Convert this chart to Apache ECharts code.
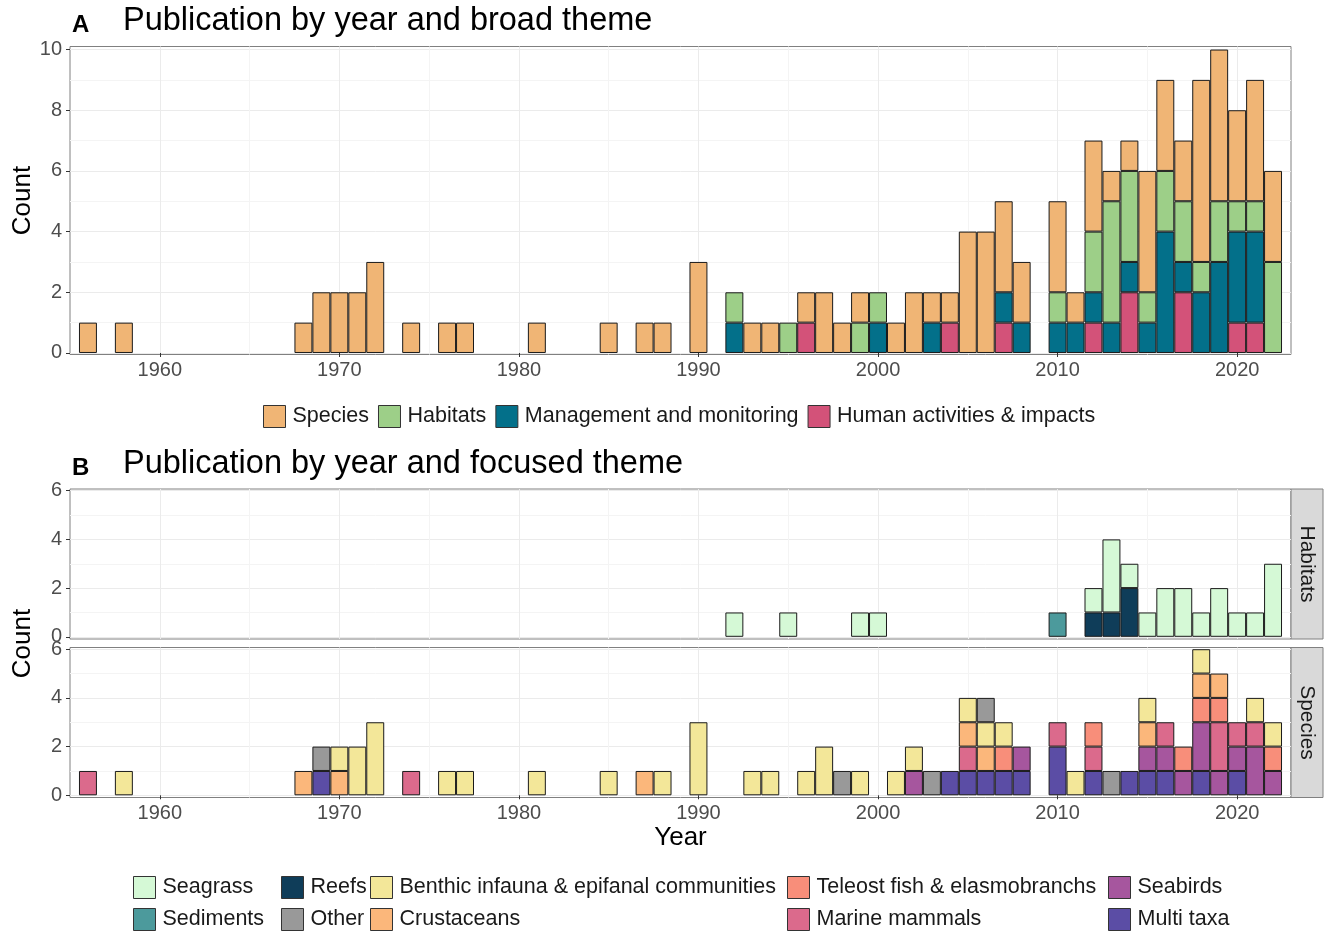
<!DOCTYPE html>
<html>
<head>
<meta charset="utf-8">
<script src="https://cdn.jsdelivr.net/npm/echarts@6/dist/echarts.min.js"></script>
<style>
html, body { margin: 0; padding: 0; background: #fff; }
#main { width: 1325px; height: 935px; }
</style>
</head>
<body>
<div id="main"></div>
<script>
// years shown on the x axis (one bar slot per year)
var years = [];
for (var yr = 1956; yr <= 2022; yr++) years.push(yr);
var xMajor = [1960, 1970, 1980, 1990, 2000, 2010, 2020];
var xMinor = [1965, 1975, 1985, 1995, 2005, 2015];

// A - broad theme, [year, count]
var species = [[1956,1],[1958,1],[1968,1],[1969,2],[1970,2],[1971,2],[1972,3],[1974,1],[1976,1],[1977,1],
  [1981,1],[1985,1],[1987,1],[1988,1],[1990,3],[1993,1],[1994,1],[1996,1],[1997,2],[1998,1],[1999,1],
  [2001,1],[2002,2],[2003,1],[2004,1],[2005,4],[2006,4],[2007,3],[2008,2],[2010,3],[2011,1],[2012,3],
  [2013,1],[2014,1],[2015,4],[2016,3],[2017,2],[2018,6],[2019,5],[2020,3],[2021,4],[2022,3]];
var habitats = [[1992,1],[1995,1],[1999,1],[2000,1],[2010,1],[2012,2],[2013,4],[2014,3],[2015,1],
  [2016,2],[2017,2],[2018,1],[2019,2],[2020,1],[2021,1],[2022,3]];
var management = [[1992,1],[2000,1],[2003,1],[2007,1],[2008,1],[2010,1],[2011,1],[2012,1],[2013,1],
  [2014,1],[2015,1],[2016,4],[2017,1],[2018,2],[2019,3],[2020,3],[2021,3]];
var human = [[1996,1],[2004,1],[2007,1],[2012,1],[2014,2],[2017,2],[2020,1],[2021,1]];

// B - focused theme, habitats facet
var seagrass = [[1992,1],[1995,1],[1999,1],[2000,1],[2012,1],[2013,3],[2014,1],[2015,1],[2016,2],
  [2017,2],[2018,1],[2019,2],[2020,1],[2021,1],[2022,3]];
var reefs = [[2012,1],[2013,1],[2014,2]];
var sediments = [[2010,1]];

// B - species facet
var multiTaxa = [[1969,1],[2004,1],[2005,1],[2006,1],[2007,1],[2008,1],[2010,2],[2012,1],[2014,1],
  [2015,1],[2016,1],[2018,1],[2020,1]];
var seabirds = [[2002,1],[2008,1],[2015,1],[2016,1],[2017,1],[2018,2],[2019,1],[2020,1],[2021,2],[2022,1]];
var mammals = [[1956,1],[1974,1],[2005,1],[2010,1],[2012,1],[2016,1],[2019,2],[2020,1],[2021,1]];
var teleost = [[2007,1],[2012,1],[2017,1],[2018,1],[2019,1],[2022,1]];
var crustaceans = [[1968,1],[1970,1],[1987,1],[2005,1],[2006,1],[2015,1],[2018,1],[2019,1]];
var benthic = [[1958,1],[1970,1],[1971,2],[1972,3],[1976,1],[1977,1],[1981,1],[1985,1],[1988,1],[1990,3],
  [1993,1],[1994,1],[1996,1],[1997,2],[1999,1],[2001,1],[2002,1],[2005,1],[2006,1],[2007,1],[2011,1],
  [2015,1],[2018,1],[2021,1],[2022,1]];
var other = [[1969,1],[1998,1],[2003,1],[2006,1],[2013,1]];

var FONT = "'Liberation Sans', Arial, Helvetica, sans-serif";

// count goes first so echarts stacks the count dimension, not the year
function fill(pairs) {
  var m = {};
  pairs.forEach(function (p) { m[p[0]] = p[1]; });
  return years.map(function (y) { return [m[y] ? m[y] : '-', y]; });
}

function bars(name, pairs, color, idx, stack) {
  return {
    name: name, type: 'bar', stack: stack,
    xAxisIndex: idx, yAxisIndex: idx,
    barWidth: '100%',
    encode: { x: 1, y: 0 },
    data: fill(pairs),
    itemStyle: { color: color, borderColor: '#1a1a1a', borderWidth: 1 },
    emphasis: { disabled: true }
  };
}

function plain(v) { return String(v); }

function xMain(g, labels) {
  return {
    type: 'value', gridIndex: g, min: 1955, max: 2023, position: 'bottom',
    axisLine: { show: false },
    axisTick: { show: labels, customValues: xMajor, length: 4, lineStyle: { color: '#333' } },
    axisLabel: { show: labels, customValues: xMajor, formatter: plain, fontSize: 20, color: '#4d4d4d', margin: 6, fontFamily: FONT },
    splitLine: { show: true, lineStyle: { color: '#ebebeb', width: 1 } }
  };
}
function xMin(g) {
  return {
    type: 'value', gridIndex: g, min: 1955, max: 2023, position: 'top',
    axisLine: { show: false },
    axisTick: { show: false, customValues: xMinor },
    axisLabel: { show: false },
    splitLine: { show: true, lineStyle: { color: '#f4f4f4', width: 1 } }
  };
}
function yMain(g, min, max, vals) {
  return {
    type: 'value', gridIndex: g, min: min, max: max, position: 'left',
    axisLine: { show: false },
    axisTick: { show: true, customValues: vals, length: 4, lineStyle: { color: '#333' } },
    axisLabel: { customValues: vals, formatter: plain, fontSize: 20, color: '#4d4d4d', margin: 8, fontFamily: FONT },
    splitLine: { show: true, lineStyle: { color: '#ebebeb', width: 1 } }
  };
}
function yMin(g, min, max, vals) {
  return {
    type: 'value', gridIndex: g, min: min, max: max, position: 'right',
    axisLine: { show: false },
    axisTick: { show: false, customValues: vals },
    axisLabel: { show: false },
    splitLine: { show: true, lineStyle: { color: '#f4f4f4', width: 1 } }
  };
}

function legendCol(left, top, names, orient) {
  return {
    left: left, top: top, orient: orient || 'vertical',
    padding: 0,
    itemWidth: 22, itemHeight: 22, itemGap: 9, icon: 'rect',
    selectedMode: false,
    itemStyle: { borderColor: '#333', borderWidth: 1 },
    textStyle: { fontSize: 21.5, color: '#1a1a1a', fontFamily: FONT, padding: [0, 0, 0, 2] },
    data: names
  };
}

function txt(text, x, y, size, opts) {
  opts = opts || {};
  return {
    type: 'text', x: x, y: y, rotation: opts.rot || 0,
    style: {
      text: text, fill: opts.fill || '#000',
      font: (opts.bold ? 'bold ' : '') + size + 'px ' + FONT,
      align: opts.align || 'left', textAlign: opts.align || 'left',
      verticalAlign: 'middle', textVerticalAlign: 'middle'
    }
  };
}

var gridStyle = { show: true, borderColor: '#808080', borderWidth: 1, backgroundColor: '#fff' };

var chart = echarts.init(document.getElementById('main'));
chart.setOption({
  animation: false,
  backgroundColor: '#fff',
  textStyle: { fontFamily: FONT },
  grid: [
    Object.assign({ left: 70, top: 46.5, width: 1221, height: 308 }, gridStyle),
    Object.assign({ left: 70, top: 489, width: 1221, height: 150 }, gridStyle),
    Object.assign({ left: 70, top: 647.5, width: 1221, height: 150 }, gridStyle)
  ],
  xAxis: [xMain(0, true), xMin(0), xMain(1, false), xMin(1), xMain(2, true), xMin(2)],
  yAxis: [
    yMain(0, -0.05, 10.1, [0, 2, 4, 6, 8, 10]), yMin(0, -0.05, 10.1, [1, 3, 5, 7, 9]),
    yMain(1, -0.09, 6.07, [0, 2, 4, 6]), yMin(1, -0.09, 6.07, [1, 3, 5]),
    yMain(2, -0.09, 6.07, [0, 2, 4, 6]), yMin(2, -0.09, 6.07, [1, 3, 5])
  ],
  legend: [
    legendCol(263, 405, ['Species', 'Habitats', 'Management and monitoring', 'Human activities & impacts'], 'horizontal'),
    legendCol(133, 876, ['Seagrass', 'Sediments']),
    legendCol(281, 876, ['Reefs', 'Other']),
    legendCol(370, 876, ['Benthic infauna & epifanal communities', 'Crustaceans']),
    legendCol(787, 876, ['Teleost fish & elasmobranchs', 'Marine mammals']),
    legendCol(1108, 876, ['Seabirds', 'Multi taxa'])
  ],
  graphic: [
    txt('A', 72, 25.5, 24, { bold: true }),
    txt('Publication by year and broad theme', 123, 21.5, 32.5),
    txt('B', 72, 468, 24, { bold: true }),
    txt('Publication by year and focused theme', 123, 464, 32.5),
    txt('Count', 22.5, 200.5, 26, { align: 'center', rot: Math.PI / 2 }),
    txt('Count', 22.5, 643.5, 26, { align: 'center', rot: Math.PI / 2 }),
    txt('Year', 680.5, 838, 26, { align: 'center' }),
    { type: 'rect', shape: { x: 1291, y: 489, width: 32, height: 150 },
      style: { fill: '#d9d9d9', stroke: '#808080', lineWidth: 1 } },
    { type: 'rect', shape: { x: 1291, y: 647.5, width: 32, height: 150 },
      style: { fill: '#d9d9d9', stroke: '#808080', lineWidth: 1 } },
    txt('Habitats', 1307, 564, 21, { align: 'center', rot: -Math.PI / 2, fill: '#1a1a1a' }),
    txt('Species', 1307, 722.5, 21, { align: 'center', rot: -Math.PI / 2, fill: '#1a1a1a' })
  ],
  series: [
    bars('Human activities & impacts', human, '#d35279', 0, 'a'),
    bars('Management and monitoring', management, '#03708a', 0, 'a'),
    bars('Habitats', habitats, '#9dcf88', 0, 'a'),
    bars('Species', species, '#f0b575', 0, 'a'),

    bars('Reefs', reefs, '#0f3d59', 2, 'h'),
    bars('Sediments', sediments, '#4c9a9c', 2, 'h'),
    bars('Seagrass', seagrass, '#d5f9d6', 2, 'h'),

    bars('Multi taxa', multiTaxa, '#5b4da5', 4, 's'),
    bars('Seabirds', seabirds, '#a6569e', 4, 's'),
    bars('Marine mammals', mammals, '#db6a8c', 4, 's'),
    bars('Teleost fish & elasmobranchs', teleost, '#f88e7a', 4, 's'),
    bars('Crustaceans', crustaceans, '#fbb77b', 4, 's'),
    bars('Benthic infauna & epifanal communities', benthic, '#f3e799', 4, 's'),
    bars('Other', other, '#999999', 4, 's')
  ]
});
</script>
</body>
</html>
